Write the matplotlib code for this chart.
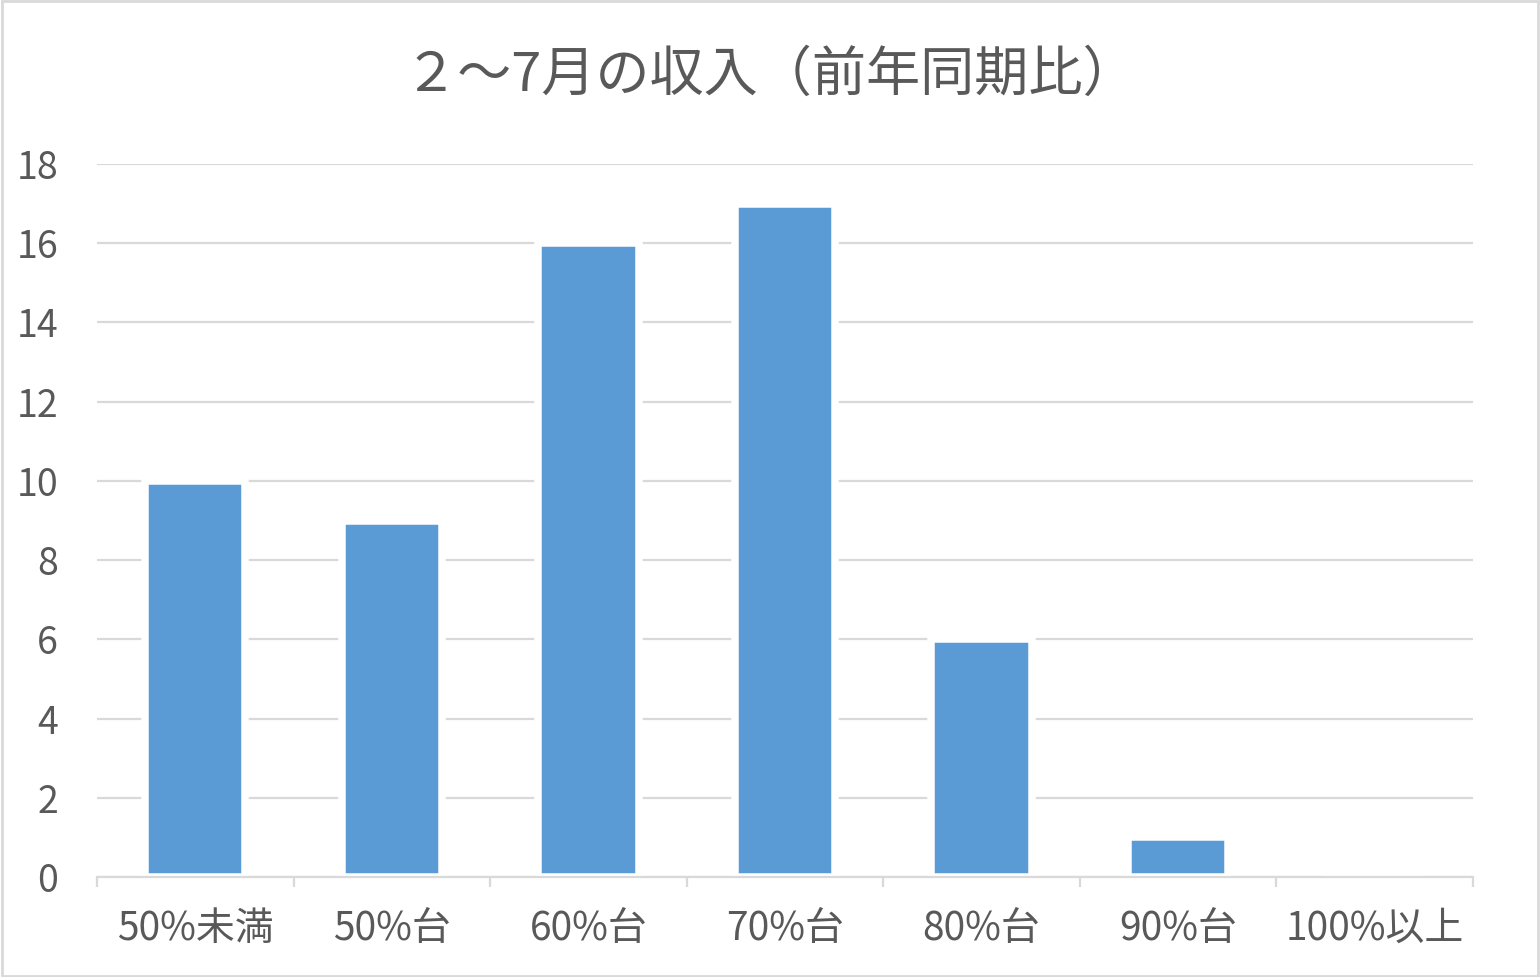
import numpy as np
import matplotlib.pyplot as plt
from matplotlib.patches import Rectangle

plt.rcParams['font.family'] = ['Noto Sans CJK JP', 'DejaVu Sans']

# data
categories = ['50%未満', '50%台', '60%台', '70%台', '80%台', '90%台', '100%以上']
counts = [10, 9, 16, 17, 6, 1, 0]
y_ticks = [0, 2, 4, 6, 8, 10, 12, 14, 16, 18]
title = '２～7月の収入（前年同期比）'

text_col = '#595959'
grid_col = '#d9d9d9'
bar_col = '#5b9bd5'

fig = plt.figure(figsize=(15.4, 9.77), dpi=100)
ax = fig.add_axes([97/1540, 1 - 877/977, (1473 - 97)/1540, (877 - 164)/977])

x = np.arange(len(categories))
ax.bar(x, counts, width=0.51, color=bar_col, edgecolor='white', linewidth=5.4, zorder=2)

ax.set_xlim(-0.5, len(categories) - 0.5)
ax.set_ylim(0, 18)
ax.set_yticks(y_ticks)
ax.set_yticklabels([str(v) for v in y_ticks])
ax.grid(axis='y', color=grid_col, linewidth=1.6, zorder=1)
ax.set_axisbelow(True)

# category labels centred, tick marks between categories
ax.set_xticks(x)
ax.set_xticklabels(categories)
ax.set_xticks(np.arange(-0.5, len(categories)), minor=True)
ax.tick_params(axis='x', which='major', length=0, pad=23, labelsize=28, labelcolor=text_col)
ax.tick_params(axis='x', which='minor', length=7, width=1.6, color=grid_col, direction='out')
ax.tick_params(axis='y', length=0, pad=28, labelsize=27, labelcolor=text_col)

for s in ['top', 'right', 'left']:
    ax.spines[s].set_visible(False)
ax.spines['bottom'].set_color(grid_col)
ax.spines['bottom'].set_linewidth(1.6)
ax.spines['bottom'].set_zorder(3)

fig.text(0.5, 1 - 75/977, title, ha='center', va='center', fontsize=39, color=text_col)

# chart area border
fig.patches.append(Rectangle((0.001, 0.001), 0.998, 0.998, transform=fig.transFigure,
                             fill=False, edgecolor=grid_col, linewidth=2))

fig.savefig('out.png', dpi=100)
